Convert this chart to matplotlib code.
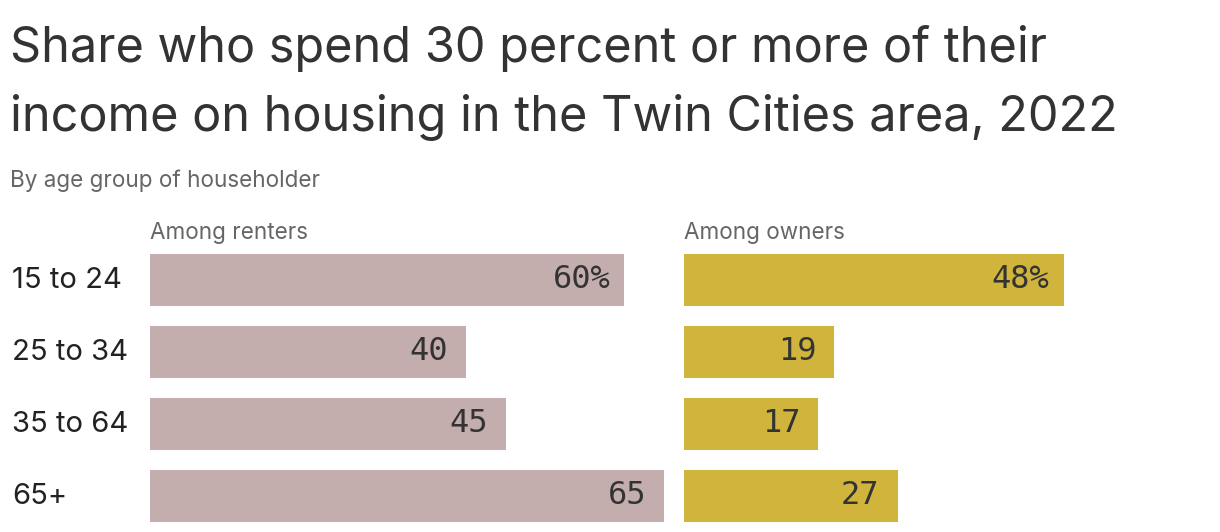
import matplotlib.pyplot as plt

W, H = 1220, 532
DPI = 100

ages = ['15 to 24', '25 to 34', '35 to 64', '65+']
renters = [60, 40, 45, 65]
owners = [48, 19, 17, 27]
renter_labels = ['60%', '40', '45', '65']
owner_labels = ['48%', '19', '17', '27']

RENT_COLOR = '#c4adad'
OWN_COLOR = '#d0b43b'
TEXT = '#333333'
GREY = '#666666'
SANS = ['Inter', 'DejaVu Sans']
MONO = 'DejaVu Sans Mono'


def fx(px):
    return px / W


def fy(px):
    return 1 - px / H


fig = plt.figure(figsize=(W / DPI, H / DPI), dpi=DPI)

# title / subtitle
fig.text(fx(10), fy(62), 'Share who spend 30 percent or more of their',
         fontsize=35, color=TEXT, family=SANS, va='baseline')
fig.text(fx(10), fy(131), 'income on housing in the Twin Cities area, 2022',
         fontsize=35, color=TEXT, family=SANS, va='baseline')
fig.text(fx(10), fy(187), 'By age group of householder',
         fontsize=16.2, color=GREY, family=SANS, va='baseline')

# bar panels
top = (H - 244) / H
xmax = 65
panel_w = 514 / W
ax_r = fig.add_axes([fx(150), 0, panel_w, top])
ax_o = fig.add_axes([fx(684), 0, panel_w, top])

for ax, vals, labs, color, head in [
        (ax_r, renters, renter_labels, RENT_COLOR, 'Among renters'),
        (ax_o, owners, owner_labels, OWN_COLOR, 'Among owners')]:
    ypos = range(len(vals))
    ax.barh(ypos, vals, height=52 / 72, color=color)
    ax.set_xlim(0, xmax)
    ax.set_ylim(len(vals) - 0.5, -0.5)
    ax.axis('off')
    for i, (v, lab) in enumerate(zip(vals, labs)):
        pad = -14 if lab.endswith('%') else -18
        ax.annotate(lab, (v, i), xytext=(pad, 0), textcoords='offset pixels',
                    ha='right', va='center', fontsize=23, family=MONO,
                    color=TEXT)
    ax.text(0, -0.5, head, transform=ax.transData, fontsize=16.2,
            color=GREY, family=SANS, va='bottom')

for i, age in enumerate(ages):
    ax_r.annotate(age, (0, i), xytext=(-138, 0), textcoords='offset pixels',
                  ha='left', va='center', fontsize=21, color='#222222',
                  family=SANS, annotation_clip=False)

fig.savefig('out.png', dpi=DPI)
plt.close()
